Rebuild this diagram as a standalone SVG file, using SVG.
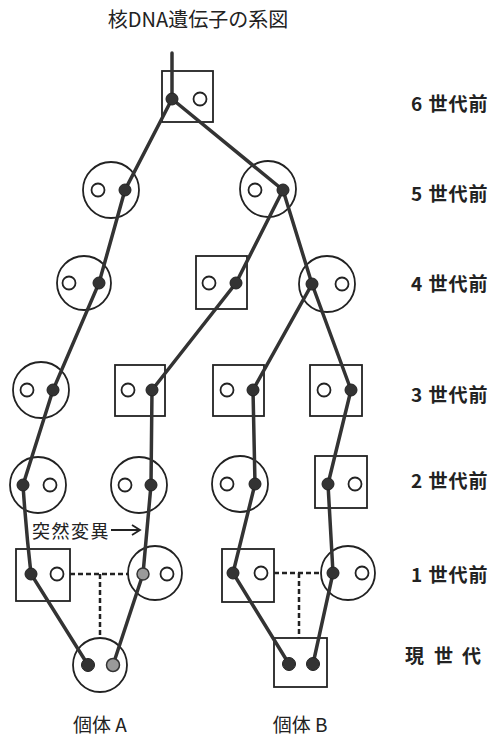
<svg xmlns="http://www.w3.org/2000/svg" width="491" height="738" viewBox="0 0 491 738">
<style>
.sh{fill:#fff;stroke:#222;stroke-width:1.8}
.ho{fill:#fff;stroke:#222;stroke-width:1.8}
.dt{fill:#333;stroke:#222;stroke-width:1}
.gd{fill:#9a9a9a;stroke:#333;stroke-width:1.5}
.ln{stroke:#333;stroke-width:3.5;fill:none;stroke-linecap:round}
.ds{stroke:#222;stroke-width:2.5;fill:none;stroke-dasharray:5 3}
.t{font-family:"Noto Sans CJK JP","Noto Sans",sans-serif;fill:#222}
.lb{font-family:"Noto Sans CJK JP","Noto Sans",sans-serif;fill:#222;font-size:19px;font-weight:bold;dominant-baseline:central;letter-spacing:1px}
</style>
<rect width="491" height="738" fill="#fff"/>
<text class="t" x="198" y="18" font-size="20" text-anchor="middle" dominant-baseline="central">核DNA遺伝子の系図</text>

<g id="shapes">
<g id="g6"><rect class="sh" x="162" y="71" width="51" height="51"/><circle class="ho" cx="200" cy="99" r="6.5"/></g>
<g id="g5L"><circle class="sh" cx="111" cy="190" r="28"/><circle class="ho" cx="98" cy="190" r="6.5"/></g>
<g id="g5R"><circle class="sh" cx="268" cy="189" r="28"/><circle class="ho" cx="255" cy="190" r="6.5"/></g>
<g id="g4L"><circle class="sh" cx="84" cy="283" r="27"/><circle class="ho" cx="69" cy="283" r="6.5"/></g>
<g id="g4M"><rect class="sh" x="196" y="256" width="51" height="53"/><circle class="ho" cx="209" cy="283" r="6.5"/></g>
<g id="g4R"><circle class="sh" cx="327" cy="284" r="28"/><circle class="ho" cx="342" cy="284" r="6.5"/></g>
<g id="g3a"><circle class="sh" cx="41" cy="390" r="28"/><circle class="ho" cx="27" cy="390" r="6.5"/></g>
<g id="g3b"><rect class="sh" x="115" y="365" width="50" height="51"/><circle class="ho" cx="128" cy="390" r="6.5"/></g>
<g id="g3c"><rect class="sh" x="213" y="365" width="51" height="51"/><circle class="ho" cx="227" cy="390" r="6.5"/></g>
<g id="g3d"><rect class="sh" x="310" y="365" width="52" height="51"/><circle class="ho" cx="324" cy="390" r="6.5"/></g>
<g id="g2a"><circle class="sh" cx="38" cy="485" r="28"/><circle class="ho" cx="50" cy="485" r="6.5"/></g>
<g id="g2b"><circle class="sh" cx="139" cy="485" r="28"/><circle class="ho" cx="125" cy="485" r="6.5"/></g>
<g id="g2c"><circle class="sh" cx="240" cy="484" r="28"/><circle class="ho" cx="227" cy="484" r="6.5"/></g>
<g id="g2d"><rect class="sh" x="315" y="456" width="52" height="52"/><circle class="ho" cx="355" cy="484" r="6.5"/></g>
<g id="g1a"><rect class="sh" x="16" y="549" width="54" height="52"/><circle class="ho" cx="57" cy="574" r="6.5"/></g>
<g id="g1b"><circle class="sh" cx="155" cy="573" r="27"/><circle class="ho" cx="167" cy="574" r="6.5"/></g>
<g id="g1c"><rect class="sh" x="222" y="549" width="52" height="53"/><circle class="ho" cx="261" cy="573" r="6.5"/></g>
<g id="g1d"><circle class="sh" cx="348" cy="573" r="27"/><circle class="ho" cx="362" cy="573" r="6.5"/></g>
<g id="g0a"><circle class="sh" cx="100" cy="665" r="27"/></g>
<g id="g0b"><rect class="sh" x="274" y="638" width="53" height="49"/></g>
</g>

<g id="connectors">
<path class="ds" d="M70 574H128M100 574V638"/>
<path class="ds" d="M274 573H321M299 573V638"/>
<path class="ln" d="M172 53V99"/>
<path class="ln" d="M172 99L125 190L99 283L53 390L23 485Q26 530 31 574L88 665"/>
<path class="ln" d="M172 99L283 190"/>
<path class="ln" d="M283 190L236 283L152 390L151 485L143 574L113 665"/>
<path class="ln" d="M283 190L312 284L253 390L255 484L233 573L289 664"/>
<path class="ln" d="M312 284L351 390L328 484L333 573L313 664"/>
<path d="M111 530H140M132 525L140 530L132 535" fill="none" stroke="#222" stroke-width="1.8"/>
</g>

<g id="dots">
<circle class="dt" cx="172" cy="99" r="6"/>
<circle class="dt" cx="125" cy="190" r="6"/>
<circle class="dt" cx="283" cy="190" r="6"/>
<circle class="dt" cx="99" cy="283" r="6"/>
<circle class="dt" cx="236" cy="283" r="6"/>
<circle class="dt" cx="312" cy="284" r="6"/>
<circle class="dt" cx="53" cy="390" r="6"/>
<circle class="dt" cx="152" cy="390" r="6"/>
<circle class="dt" cx="253" cy="390" r="6"/>
<circle class="dt" cx="351" cy="390" r="6"/>
<circle class="dt" cx="23" cy="485" r="6"/>
<circle class="dt" cx="151" cy="485" r="6"/>
<circle class="dt" cx="255" cy="484" r="6"/>
<circle class="dt" cx="328" cy="484" r="6"/>
<circle class="dt" cx="31" cy="574" r="6"/>
<circle class="gd" cx="143" cy="574" r="6"/>
<circle class="dt" cx="233" cy="573" r="6"/>
<circle class="dt" cx="333" cy="573" r="6"/>
<circle class="dt" cx="88" cy="665" r="6.5"/>
<circle class="gd" cx="113" cy="665" r="6.5"/>
<circle class="dt" cx="289" cy="664" r="6.5"/>
<circle class="dt" cx="313" cy="664" r="6.5"/>
</g>

<text class="t" x="32" y="530" font-size="18" dominant-baseline="central" letter-spacing="1.5">突然変異</text>
<text class="t" x="100" y="723" font-size="19" text-anchor="middle" dominant-baseline="central">個体 A</text>
<text class="t" x="300" y="723" font-size="19" text-anchor="middle" dominant-baseline="central">個体 B</text>

<g id="labels">
<text class="lb" x="411" y="102">6 世代前</text>
<text class="lb" x="411" y="192">5 世代前</text>
<text class="lb" x="411" y="282">4 世代前</text>
<text class="lb" x="411" y="393">3 世代前</text>
<text class="lb" x="411" y="479">2 世代前</text>
<text class="lb" x="411" y="573">1 世代前</text>
<text class="lb" y="654"><tspan x="405">現</tspan><tspan x="434">世</tspan><tspan x="462">代</tspan></text>
</g>
</svg>
